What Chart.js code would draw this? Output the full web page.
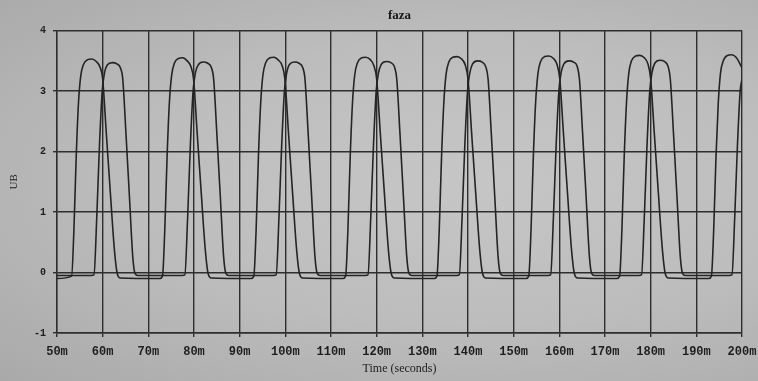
<!DOCTYPE html>
<html>
<head>
<meta charset="utf-8">
<title>faza</title>
<script src="https://cdn.jsdelivr.net/npm/chart.js@4.4.1/dist/chart.umd.min.js"></script>
<style>
  html, body {
    margin: 0;
    padding: 0;
    width: 758px;
    height: 381px;
    overflow: hidden;
    background: radial-gradient(ellipse at 62% 48%, #c6c6c6 0%, #bdbdbd 50%, #a9a9a9 100%);
  }
  canvas { display: block; }
</style>
</head>
<body>
<canvas id="faza" width="758" height="381"></canvas>
<script>
// Dane (czas w ms, napięcie w V)
const timeA = [
  50, 53.2, 53.7, 54.2, 54.7, 55.2, 55.8, 56.7, 57.6, 58.6, 59.4, 60.0, 60.8, 61.7, 62.6, 63.2, 63.9,
  72.5, 73.1, 73.6, 74.1, 74.6, 75.1, 75.7, 76.6, 77.5, 78.5, 79.3, 79.9, 80.7, 81.6, 82.5, 83.1, 83.8,
  92.5, 93.1, 93.6, 94.1, 94.6, 95.1, 95.7, 96.6, 97.5, 98.5, 99.3, 99.9, 100.7, 101.6, 102.5, 103.1, 103.8,
  112.6, 113.2, 113.7, 114.2, 114.7, 115.2, 115.8, 116.7, 117.6, 118.6, 119.4, 120.0, 120.8, 121.7, 122.6, 123.2, 123.9,
  132.6, 133.2, 133.7, 134.2, 134.7, 135.2, 135.8, 136.7, 137.6, 138.6, 139.4, 140.0, 140.8, 141.7, 142.6, 143.2, 143.9,
  152.7, 153.3, 153.8, 154.3, 154.8, 155.3, 155.9, 156.8, 157.7, 158.7, 159.5, 160.1, 160.9, 161.8, 162.7, 163.3, 164.0,
  172.6, 173.2, 173.7, 174.2, 174.7, 175.2, 175.8, 176.7, 177.6, 178.6, 179.4, 180.0, 180.8, 181.7, 182.6, 183.2, 183.9,
  192.7, 193.3, 193.8, 194.3, 194.8, 195.3, 195.9, 196.8, 197.7, 198.7, 199.5, 200
];
const voltA = [
  -0.1, -0.06, 0.7, 1.9, 2.8, 3.25, 3.44, 3.52, 3.53, 3.49, 3.4, 3.2, 2.3, 1.3, 0.35, -0.02, -0.09,
  -0.1, -0.06, 0.7, 1.9, 2.8, 3.26, 3.46, 3.54, 3.55, 3.5, 3.41, 3.2, 2.3, 1.3, 0.35, -0.02, -0.09,
  -0.1, -0.06, 0.7, 1.9, 2.8, 3.27, 3.47, 3.55, 3.56, 3.51, 3.42, 3.2, 2.3, 1.3, 0.35, -0.02, -0.09,
  -0.1, -0.06, 0.7, 1.9, 2.8, 3.27, 3.47, 3.55, 3.56, 3.52, 3.42, 3.2, 2.3, 1.3, 0.35, -0.02, -0.09,
  -0.1, -0.06, 0.7, 1.9, 2.8, 3.28, 3.48, 3.56, 3.57, 3.53, 3.43, 3.2, 2.3, 1.3, 0.35, -0.02, -0.09,
  -0.1, -0.06, 0.7, 1.9, 2.8, 3.28, 3.49, 3.57, 3.58, 3.54, 3.44, 3.2, 2.3, 1.3, 0.35, -0.02, -0.09,
  -0.1, -0.06, 0.7, 1.9, 2.8, 3.29, 3.5, 3.58, 3.59, 3.55, 3.45, 3.2, 2.3, 1.3, 0.35, -0.02, -0.09,
  -0.1, -0.06, 0.7, 1.9, 2.8, 3.3, 3.5, 3.59, 3.6, 3.56, 3.46, 3.38
];

const timeB = [
  50, 57.5, 58.1, 58.7, 59.3, 59.9, 60.4, 61.0, 62.1, 63.1, 63.9, 64.4, 65.1, 65.9, 66.6, 67.1, 67.7,
  77.4, 78.0, 78.6, 79.2, 79.8, 80.3, 80.9, 82.0, 83.0, 83.8, 84.3, 85.0, 85.8, 86.5, 87.0, 87.6,
  97.4, 98.0, 98.6, 99.2, 99.8, 100.3, 100.9, 102.0, 103.0, 103.8, 104.3, 105.0, 105.8, 106.5, 107.0, 107.6,
  117.5, 118.1, 118.7, 119.3, 119.9, 120.4, 121.0, 122.1, 123.1, 123.9, 124.4, 125.1, 125.9, 126.6, 127.1, 127.7,
  137.5, 138.1, 138.7, 139.3, 139.9, 140.4, 141.0, 142.1, 143.1, 143.9, 144.4, 145.1, 145.9, 146.6, 147.1, 147.7,
  157.5, 158.1, 158.7, 159.3, 159.9, 160.4, 161.0, 162.1, 163.1, 163.9, 164.4, 165.1, 165.9, 166.6, 167.1, 167.7,
  177.4, 178.0, 178.6, 179.2, 179.8, 180.3, 180.9, 182.0, 183.0, 183.8, 184.3, 185.0, 185.8, 186.5, 187.0, 187.6,
  197.2, 197.8, 198.4, 199.0, 199.6, 200
];
const voltB = [
  -0.05, -0.05, -0.04, 0.9, 2.1, 3.0, 3.3, 3.43, 3.47, 3.45, 3.38, 3.2, 2.3, 1.2, 0.25, -0.02, -0.05,
  -0.05, -0.04, 0.9, 2.1, 3.0, 3.3, 3.43, 3.48, 3.46, 3.39, 3.2, 2.3, 1.2, 0.25, -0.02, -0.05,
  -0.05, -0.04, 0.9, 2.1, 3.0, 3.3, 3.44, 3.48, 3.46, 3.39, 3.2, 2.3, 1.2, 0.25, -0.02, -0.05,
  -0.05, -0.04, 0.9, 2.1, 3.0, 3.3, 3.44, 3.49, 3.47, 3.4, 3.2, 2.3, 1.2, 0.25, -0.02, -0.05,
  -0.05, -0.04, 0.9, 2.1, 3.0, 3.3, 3.45, 3.5, 3.48, 3.4, 3.2, 2.3, 1.2, 0.25, -0.02, -0.05,
  -0.05, -0.04, 0.9, 2.1, 3.0, 3.31, 3.45, 3.5, 3.48, 3.41, 3.2, 2.3, 1.2, 0.25, -0.02, -0.05,
  -0.05, -0.04, 0.9, 2.1, 3.0, 3.31, 3.46, 3.51, 3.49, 3.41, 3.2, 2.3, 1.2, 0.25, -0.02, -0.05,
  -0.05, -0.04, 0.9, 2.1, 3.0, 3.2
];

// Osie
const xMin = 50, xMax = 200, xStep = 10;
const yMin = -1, yMax = 4, yStep = 1;

const toPoints = (xs, ys) => xs.map((x, i) => ({ x: x, y: ys[i] }));

const ink = '#242424';
const gridInk = '#2e2e2e';

new Chart(document.getElementById('faza').getContext('2d'), {
  type: 'line',
  data: {
    datasets: [
      {
        label: 'A',
        data: toPoints(timeA, voltA),
        borderColor: ink,
        borderWidth: 1.6,
        pointRadius: 0,
        cubicInterpolationMode: 'monotone',
        fill: false
      },
      {
        label: 'B',
        data: toPoints(timeB, voltB),
        borderColor: ink,
        borderWidth: 1.6,
        pointRadius: 0,
        cubicInterpolationMode: 'monotone',
        fill: false
      }
    ]
  },
  options: {
    responsive: false,
    animation: false,
    devicePixelRatio: 1,
    layout: {
      padding: { left: 0, right: 16, top: 0, bottom: 0 }
    },
    plugins: {
      legend: { display: false },
      tooltip: { enabled: false },
      title: {
        display: true,
        text: 'faza',
        fullSize: false,
        color: '#151515',
        font: { family: 'Liberation Serif', size: 13, weight: 'bold' },
        padding: { top: 8, bottom: 7 }
      }
    },
    scales: {
      x: {
        type: 'linear',
        min: xMin,
        max: xMax,
        afterFit: (scale) => {
          scale.height = 48;
          scale.paddingLeft = 0;
          scale.paddingRight = 0;
        },
        ticks: {
          stepSize: xStep,
          autoSkip: false,
          maxRotation: 0,
          padding: 8,
          color: '#1e1e1e',
          font: { family: 'Liberation Mono', size: 12, weight: 'bold' },
          callback: (value) => value + 'm'
        },
        grid: {
          color: gridInk,
          lineWidth: 1.4,
          tickLength: 4
        },
        border: { color: gridInk, width: 1.4 },
        title: {
          display: true,
          text: 'Time (seconds)',
          color: '#1e1e1e',
          font: { family: 'Liberation Serif', size: 12 },
          padding: { top: 2, bottom: 5 }
        }
      },
      y: {
        min: yMin,
        max: yMax,
        afterFit: (scale) => { scale.width = 57; },
        ticks: {
          stepSize: yStep,
          padding: 7,
          color: '#1e1e1e',
          font: { family: 'Liberation Mono', size: 10, weight: 'bold' }
        },
        grid: {
          color: gridInk,
          lineWidth: 1.4,
          tickLength: 4
        },
        border: { color: gridInk, width: 1.4 },
        title: {
          display: true,
          text: 'UB',
          color: '#1e1e1e',
          font: { family: 'Liberation Serif', size: 11 },
          padding: { top: 8, bottom: 2 }
        }
      }
    }
  }
});
</script>
</body>
</html>
